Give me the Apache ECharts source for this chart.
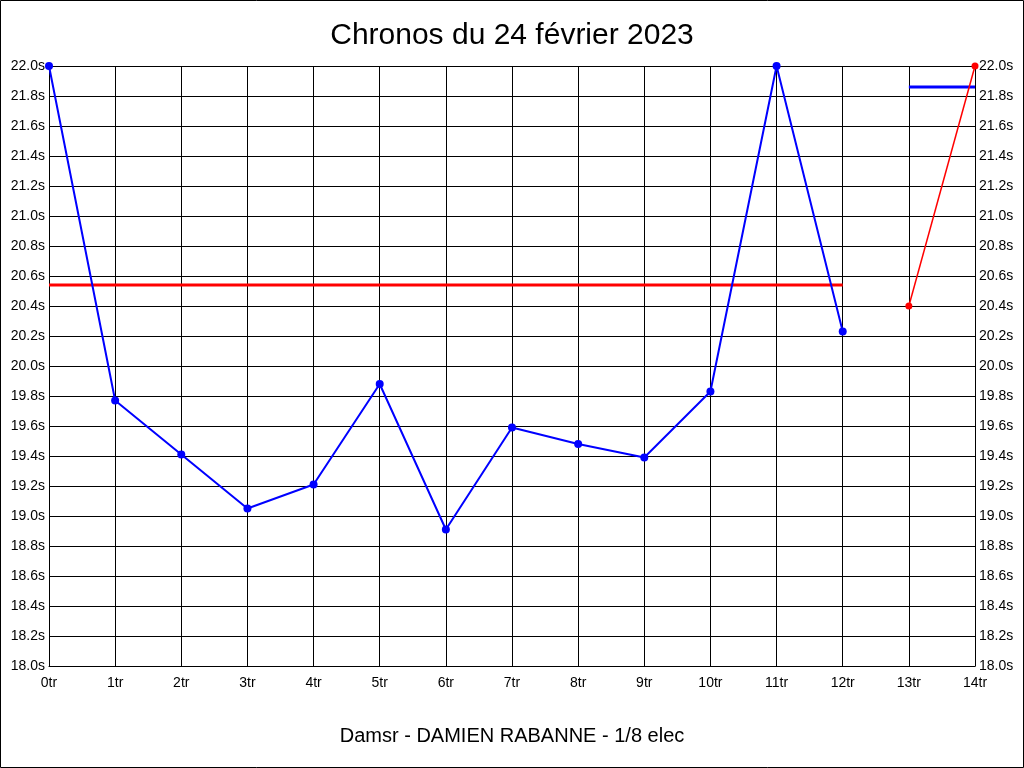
<!DOCTYPE html>
<html>
<head>
<meta charset="utf-8">
<script src="https://cdn.jsdelivr.net/npm/echarts@6/dist/echarts.min.js"></script>
<style>
  html, body { margin: 0; padding: 0; background: #fff; }
</style>
</head>
<body>
<div id="chronos" style="width: 1024px; height: 768px"></div>
<script>
// tours (x axis)
var laps = [0, 1, 2, 3, 4, 5, 6, 7, 8, 9, 10, 11, 12, 13, 14];
// chronos de la 1ere serie (bleu), tours 0 a 12
var blueTimes = [22.0, 19.77, 19.41, 19.05, 19.21, 19.88, 18.91, 19.59, 19.48, 19.39, 19.83, 22.0, 20.23];
// chronos de la 2e serie (rouge), tours 13 et 14
var redLaps = [13, 14];
var redTimes = [20.4, 22.0];
// moyennes
var redAvg = { value: 20.54, from: 0, to: 12 };
var blueAvg = { value: 21.86, from: 13, to: 14 };

var title = "Chronos du 24 février 2023";
var subtitle = "Damsr - DAMIEN RABANNE - 1/8 elec";

var chartDom = document.getElementById("chronos");
var myChart = echarts.init(chartDom);
var font = "'Liberation Sans', Arial, sans-serif";

var blueData = [];
for (var i = 0; i < blueTimes.length; i++) {
  blueData.push([laps[i], blueTimes[i]]);
}
var redData = [];
for (var j = 0; j < redTimes.length; j++) {
  redData.push([redLaps[j], redTimes[j]]);
}

var yLabel = {
  color: "#000",
  fontFamily: font,
  fontSize: 14,
  margin: 4,
  formatter: function (v) {
    return v.toFixed(1) + "s";
  },
};

var option = {
  animation: false,
  backgroundColor: "#fff",
  title: [
    {
      text: title,
      left: "center",
      top: 16,
      textStyle: { color: "#000", fontFamily: font, fontSize: 30, fontWeight: "normal" },
    },
    {
      text: subtitle,
      left: "center",
      top: 721,
      textStyle: { color: "#000", fontFamily: font, fontSize: 20, fontWeight: "normal" },
    },
  ],
  graphic: [
    {
      type: "rect",
      shape: { x: 0.5, y: 0.5, width: 1023, height: 767 },
      style: { fill: "none", stroke: "#000", lineWidth: 1 },
      silent: true,
    },
  ],
  grid: { left: 49, right: 49, top: 66, bottom: 102 },
  xAxis: {
    type: "value",
    min: 0,
    max: 14,
    interval: 1,
    axisLine: { lineStyle: { color: "#000", width: 1 } },
    axisTick: { show: false },
    splitLine: { show: true, lineStyle: { color: "#000", width: 1 } },
    axisLabel: {
      color: "#000",
      fontFamily: font,
      fontSize: 14,
      margin: 10,
      formatter: function (v) {
        return v + "tr";
      },
    },
  },
  yAxis: [
    {
      type: "value",
      position: "left",
      min: 18,
      max: 22,
      interval: 0.2,
      axisLine: { show: true, lineStyle: { color: "#000", width: 1 } },
      axisTick: { show: false },
      splitLine: { show: true, lineStyle: { color: "#000", width: 1 } },
      axisLabel: yLabel,
    },
    {
      type: "value",
      position: "right",
      min: 18,
      max: 22,
      interval: 0.2,
      axisLine: { show: true, lineStyle: { color: "#000", width: 1 } },
      axisTick: { show: false },
      splitLine: { show: false },
      axisLabel: yLabel,
    },
  ],
  series: [
    {
      name: "moyenne 1",
      type: "line",
      symbol: "none",
      clip: false,
      lineStyle: { color: "#ff0000", width: 3 },
      data: [
        [redAvg.from, redAvg.value],
        [redAvg.to, redAvg.value],
      ],
      z: 3,
    },
    {
      name: "moyenne 2",
      type: "line",
      symbol: "none",
      clip: false,
      lineStyle: { color: "#0000ff", width: 3 },
      data: [
        [blueAvg.from, blueAvg.value],
        [blueAvg.to, blueAvg.value],
      ],
      z: 3,
    },
    {
      name: "serie 1",
      type: "line",
      symbol: "circle",
      symbolSize: 8,
      clip: false,
      itemStyle: { color: "#0000ff" },
      lineStyle: { color: "#0000ff", width: 2 },
      data: blueData,
      z: 4,
    },
    {
      name: "serie 2",
      type: "line",
      symbol: "circle",
      symbolSize: 7,
      clip: false,
      itemStyle: { color: "#ff0000" },
      lineStyle: { color: "#ff0000", width: 1.5 },
      data: redData,
      z: 4,
    },
  ],
};

option && myChart.setOption(option);
</script>
</body>
</html>
